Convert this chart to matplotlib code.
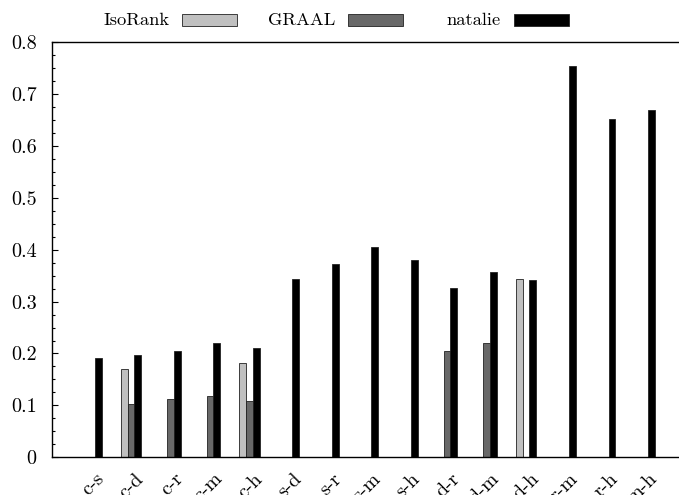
import numpy as np
from matplotlib import pyplot as plt
from matplotlib.patches import Rectangle
from matplotlib.ticker import MultipleLocator, FuncFormatter

plt.rcParams['font.family'] = ['cmr10', 'DejaVu Serif']
plt.rcParams['axes.formatter.use_mathtext'] = True

# data
pairs = ['c-s', 'c-d', 'c-r', 'c-m', 'c-h', 's-d', 's-r', 's-m', 's-h',
         'd-r', 'd-m', 'd-h', 'r-m', 'r-h', 'm-h']
isorank = [0, 0.170, 0, 0, 0.181, 0, 0, 0, 0, 0, 0, 0.344, 0, 0, 0]
graal = [0, 0.102, 0.112, 0.119, 0.108, 0, 0, 0, 0, 0.205, 0.221, 0, 0, 0, 0]
natalie = [0.191, 0.197, 0.204, 0.220, 0.211, 0.343, 0.373, 0.406, 0.381,
           0.327, 0.357, 0.342, 0.754, 0.651, 0.670]
names = ['IsoRank', 'GRAAL', 'natalie']
colors = ['#c0c0c0', '#686868', '#000000']

fig = plt.figure(figsize=(6.79, 4.95), dpi=100)
ax = fig.add_axes([0.0766, 0.0762, 0.931, 0.8388])

x = np.arange(len(pairs))
w = 0.17
for off, vals, c in zip([-w, 0, w], [isorank, graal, natalie], colors):
    ax.bar(x + off, vals, width=w, color=c, edgecolor='#222222', linewidth=0.6, zorder=2)

ax.set_xlim(-1, 15)
ax.set_ylim(0, 0.8)
ax.yaxis.set_major_locator(MultipleLocator(0.1))
ax.yaxis.set_minor_locator(MultipleLocator(0.025))
ax.yaxis.set_major_formatter(FuncFormatter(lambda v, p: '%g' % round(v, 2)))
ax.tick_params(axis='y', which='major', direction='in', length=4.3, width=0.8,
               pad=11, labelsize=14.5)
ax.tick_params(axis='y', which='minor', direction='in', length=2.2, width=0.8)
ax.set_xticks([])
ax.spines['right'].set_visible(False)
for s in ['left', 'top', 'bottom']:
    ax.spines[s].set_linewidth(1.0)

# rotated pair labels (partly cut by the bottom edge, as in the original)
for xi, lab in zip(x, pairs):
    ax.text(xi + 0.34, -0.043, lab, rotation=45, ha='right', va='baseline',
            rotation_mode='anchor', fontsize=14.5, transform=ax.transData,
            clip_on=False)

# key above the plot
text_right = [169, 335, 501]
for name, c, xr in zip(names, colors, text_right):
    fig.text(xr / 679, 1 - 20 / 495, name, ha='right', va='center', fontsize=13.3)
    fig.patches.append(Rectangle(((xr + 13) / 679, 1 - 26 / 495), 55 / 679, 12 / 495,
                                 facecolor=c, edgecolor='#222222', linewidth=0.6,
                                 transform=fig.transFigure, figure=fig))

fig.savefig('out.png', dpi=100)
